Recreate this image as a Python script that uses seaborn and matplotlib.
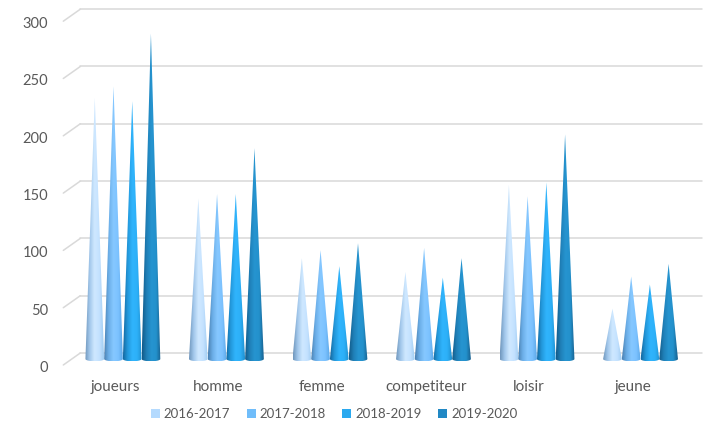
import numpy as np
import pandas as pd
import matplotlib
matplotlib.use("Agg")
import matplotlib.pyplot as plt
import seaborn as sns
from matplotlib.colors import LinearSegmentedColormap
from matplotlib.patches import PathPatch, Patch
from matplotlib.path import Path
from matplotlib.transforms import ScaledTranslation

categories = ["joueurs", "homme", "femme", "competiteur", "loisir", "jeune"]
seasons = ["2016-2017", "2017-2018", "2018-2019", "2019-2020"]
v_2016 = [228, 140, 88, 76, 152, 44]
v_2017 = [238, 144, 95, 97, 142, 72]
v_2018 = [225, 144, 81, 71, 154, 65]
v_2019 = [284, 184, 101, 88, 196, 83]
series_values = [v_2016, v_2017, v_2018, v_2019]
y_ticks = [0, 50, 100, 150, 200, 250, 300]

legend_colors = ["#b4dafe", "#70bdfa", "#2aa9ef", "#2188c4"]
cone_stops = [
    ["#6f96bc", "#a3c8ec", "#cfe8ff", "#c4e2ff", "#a0ccf2"],
    ["#4a80b2", "#6cafe8", "#86c8ff", "#7cc2ff", "#5ca8e8"],
    ["#14689f", "#2399dc", "#30b4fc", "#2db0f8", "#1f90d0"],
    ["#125a88", "#1f80b8", "#2694d0", "#2391cc", "#175f8e"],
]
text_color = "#595959"
grid_color = "#d9d9d9"

sns.set_theme(style="white")
plt.rcParams["font.family"] = ["Lato", "DejaVu Sans"]

df = pd.DataFrame({
    "category": np.repeat(categories, len(seasons)),
    "season": seasons * len(categories),
    "value": np.array(series_values).T.ravel(),
})

W, H = 716, 432
fig = plt.figure(figsize=(W / 100, H / 100), dpi=100)
ax = fig.add_axes([63.3 / W, 1 - 365 / H, (684.5 - 63.3) / W, (365 - 21.2) / H])
sns.barplot(data=df, x="category", y="value", hue="season", order=categories,
            hue_order=seasons, palette=legend_colors, width=0.723, gap=0,
            legend=False, ax=ax)
ax.set_xlim(-0.5, 5.5)
ax.set_ylim(0, 300)
ax.set_yticks(y_ticks)
ax.set_xlabel("")
ax.set_ylabel("")
sns.despine(ax=ax, left=True, bottom=True)
ax.tick_params(axis="both", length=0, colors=text_color)
ax.tick_params(axis="x", pad=11, labelsize=11)
ax.tick_params(axis="y", pad=11, labelsize=10.5)
ax.grid(False)
down = ScaledTranslation(0, -0.015, fig.dpi_scale_trans)
for lab in ax.get_yticklabels():
    lab.set_transform(lab.get_transform() + down)

# 3D look: the back wall and the cone plane are offset from the front plane
back = ax.transData + ScaledTranslation(0.17, 0.12, fig.dpi_scale_trans)
mid = ax.transData + ScaledTranslation(0.078, 0.06, fig.dpi_scale_trans)
x0, x1 = ax.get_xlim()
for v in y_ticks:
    ax.plot([x0, x1], [v, v], transform=back, color=grid_color, lw=1.1, clip_on=False, zorder=1)
    p0 = ax.transData.transform((x0, v))
    p1 = back.transform((x0, v))
    ax.plot([p0[0], p1[0]], [p0[1], p1[1]], transform=None, color=grid_color, lw=1.1,
            clip_on=False, zorder=1)

# Cones: take each bar's geometry from seaborn's bars
ry = 2.0
for s, container in enumerate(ax.containers):
    cmap = LinearSegmentedColormap.from_list(f"c{s}", cone_stops[s])
    grad = np.linspace(0, 1, 128).reshape(1, -1)
    for bar in container:
        bar.set_visible(False)
        xl, w, h = bar.get_x(), bar.get_width(), bar.get_height()
        cx = xl + w / 2
        t = np.linspace(np.pi, 2 * np.pi, 30)
        pts = [(cx + w / 2 * np.cos(a), ry * np.sin(a)) for a in t] + [(cx, h), (xl, 0)]
        path = Path(pts, closed=False)
        clip = PathPatch(path, transform=mid, facecolor="none", edgecolor="none")
        ax.add_patch(clip)
        clip.set_clip_on(False)
        im = ax.imshow(grad, cmap=cmap, aspect="auto", extent=(xl, xl + w, -ry, h),
                       transform=mid, zorder=3, interpolation="bilinear")
        im.set_clip_path(clip)
ax.set_xlim(x0, x1)
ax.set_ylim(0, 300)

handles = [Patch(facecolor=c, edgecolor="none") for c in legend_colors]
fig.legend(handles, seasons, loc="center", bbox_to_anchor=(334 / W, 1 - 414 / H), ncol=4,
           frameon=False, fontsize=9.5, labelcolor=text_color, handlelength=0.68,
           handleheight=0.68, handletextpad=0.3, columnspacing=1.25)
fig.savefig("out.png", dpi=100, facecolor="white")
